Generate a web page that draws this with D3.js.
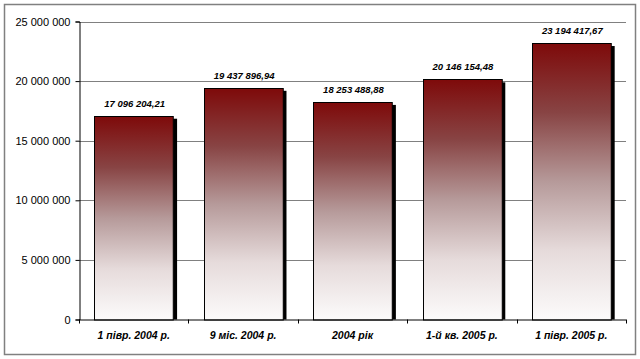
<!DOCTYPE html>
<html>
<head>
<meta charset="utf-8">
<script src="https://cdn.jsdelivr.net/npm/d3@7"></script>
<style>
  body { margin: 0; background: #fff; }
  svg { display: block; font-family: "Liberation Sans", Arial, sans-serif; }
</style>
</head>
<body>
<div id="chart"></div>
<script>
// Chart data
const categories = ['1 півр. 2004 р.', '9 міс. 2004 р.', '2004 рік', '1-й кв. 2005 р.', '1 півр. 2005 р.'];
const values = [17096204.21, 19437896.94, 18253488.88, 20146154.48, 23194417.67];
const valueLabels = ['17 096 204,21', '19 437 896,94', '18 253 488,88', '20 146 154,48', '23 194 417,67'];
const yTicks = [0, 5000000, 10000000, 15000000, 20000000, 25000000];

const width = 640;
const height = 359;
const margin = { top: 21.5, right: 14, bottom: 40, left: 79 };

const svg = d3.select('#chart')
    .append('svg')
    .attr('width', width)
    .attr('height', height);

// outer frame
svg.append('rect')
    .attr('x', 4.5).attr('y', 4.5)
    .attr('width', 631).attr('height', 350)
    .attr('fill', '#fff')
    .attr('stroke', '#808080')
    .attr('stroke-width', 1.5);

// dark red fading to white through greyish tones
const defs = svg.append('defs');
const grad = defs.append('linearGradient')
    .attr('id', 'barGrad')
    .attr('x1', 0).attr('y1', 0).attr('x2', 0).attr('y2', 1);
[['0%', '#7e0a0a'], ['25%', '#884444'], ['50%', '#b69a9a'], ['75%', '#e6dbdb'], ['100%', '#fcfbfb']]
    .forEach(s => grad.append('stop').attr('offset', s[0]).attr('stop-color', s[1]));

const x = d3.scaleBand()
    .domain(categories)
    .range([margin.left, width - margin.right])
    .paddingInner(0.28)
    .paddingOuter(0.14);

const y = d3.scaleLinear()
    .domain([0, 25000000])
    .range([319.5, margin.top]);

const step = x.step();

// gridlines
svg.append('g')
    .selectAll('line')
    .data(yTicks.filter(d => d > 0))
    .enter()
    .append('line')
    .attr('x1', margin.left)
    .attr('x2', width - margin.right)
    .attr('y1', d => Math.round(y(d)) + 0.5)
    .attr('y2', d => Math.round(y(d)) + 0.5)
    .attr('stroke', '#808080')
    .attr('stroke-width', 1);

// y axis
const yAxis = d3.axisLeft(y)
    .tickValues(yTicks)
    .tickSize(4)
    .tickPadding(5)
    .tickFormat(d => d3.format(',')(d).replace(/,/g, ' '));

const yg = svg.append('g')
    .attr('transform', `translate(${margin.left + 0.5},0)`)
    .call(yAxis);
yg.select('.domain').attr('stroke', '#000');
yg.selectAll('.tick line').attr('stroke', '#000');
yg.selectAll('.tick text')
    .attr('font-size', '11px')
    .attr('fill', '#000')
    .attr('font-family', '"Liberation Sans", Arial, sans-serif');

// bars
const bars = svg.append('g')
    .selectAll('g')
    .data(values)
    .enter()
    .append('g');

// shadow
bars.append('rect')
    .attr('x', (d, i) => x(categories[i]) + x.bandwidth())
    .attr('y', d => y(d) + 3)
    .attr('width', 4)
    .attr('height', d => y(0) - y(d) - 3)
    .attr('fill', '#000');

bars.append('rect')
    .attr('x', (d, i) => Math.round(x(categories[i])) + 0.5)
    .attr('y', d => Math.round(y(d)) + 0.5)
    .attr('width', x.bandwidth())
    .attr('height', d => y(0) - Math.round(y(d)))
    .attr('fill', 'url(#barGrad)')
    .attr('stroke', '#000')
    .attr('stroke-width', 1);

// value labels
bars.append('text')
    .attr('x', (d, i) => x(categories[i]) + x.bandwidth() / 2 + 1)
    .attr('y', d => y(d) - 9)
    .attr('text-anchor', 'middle')
    .attr('font-size', '9.5px')
    .attr('font-weight', 'bold')
    .attr('font-style', 'italic')
    .attr('fill', '#000')
    .text((d, i) => valueLabels[i]);

// x axis
const xAxis = d3.axisBottom(x)
    .tickSize(0)
    .tickPadding(12);

const xg = svg.append('g')
    .attr('transform', `translate(0,${y(0)})`)
    .call(xAxis);
xg.select('.domain').attr('stroke', '#000').attr('d', `M${margin.left},0.5H${width - margin.right}`);
xg.selectAll('.tick text')
    .attr('font-size', '10.5px')
    .attr('font-weight', 'bold')
    .attr('font-style', 'italic')
    .attr('fill', '#000')
    .attr('font-family', '"Liberation Sans", Arial, sans-serif');

// category boundary ticks
svg.append('g')
    .selectAll('line')
    .data(d3.range(categories.length + 1))
    .enter()
    .append('line')
    .attr('x1', i => Math.round(margin.left + i * step) + 0.5)
    .attr('x2', i => Math.round(margin.left + i * step) + 0.5)
    .attr('y1', y(0))
    .attr('y2', y(0) + 4)
    .attr('stroke', '#000');
</script>
</body>
</html>
